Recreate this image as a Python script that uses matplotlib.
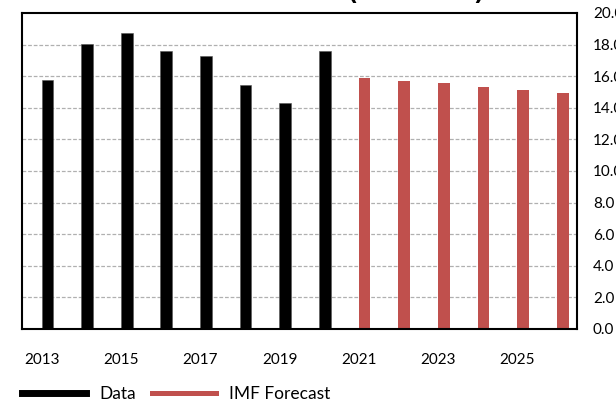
import matplotlib
matplotlib.use("Agg")
import matplotlib.pyplot as plt
from matplotlib.lines import Line2D
import numpy as np

years = [2013, 2014, 2015, 2016, 2017, 2018, 2019, 2020,
         2021, 2022, 2023, 2024, 2025, 2026]
data_values = [15.74, 18.02, 18.73, 17.59, 17.30, 15.42, 14.28, 17.61]
forecast_values = [15.89, 15.72, 15.59, 15.34, 15.15, 14.96]
tick_years = [2013, 2015, 2017, 2019, 2021, 2023, 2025]
y_ticks = [0, 2, 4, 6, 8, 10, 12, 14, 16, 18, 20]
title_text = "(% of GDP)"
legend_labels = ["Data", "IMF Forecast"]

BLACK = "#000000"
RED = "#C0504D"

plt.rcParams['font.family'] = ['Lato', 'DejaVu Sans']

W, H = 616, 401
fig = plt.figure(figsize=(W / 100, H / 100), dpi=100)
ax = fig.add_axes([22 / W, 1 - 329 / H, (577 - 22) / W, (329 - 13) / H])

idx = np.arange(len(years))
offset = 0.14
n_data = len(data_values)
ax.bar(idx[:n_data] + offset, data_values, width=0.295, color=BLACK,
       edgecolor="#555555", linewidth=0.4, zorder=3)
ax.bar(idx[n_data:] + offset, forecast_values, width=0.295, color=RED,
       zorder=3)

ax.set_xlim(-0.5, len(years) - 0.5)
ax.set_ylim(0, 20)

tick_idx = [years.index(y) for y in tick_years]
ax.set_xticks(tick_idx)
ax.set_xticklabels([str(y) for y in tick_years], fontsize=11)
ax.tick_params(axis='x', length=0, pad=17)

ax.yaxis.tick_right()
ax.set_yticks(y_ticks)
ax.set_yticklabels([f"{v:.1f}" for v in y_ticks], fontsize=11)
ax.tick_params(axis='y', length=0, pad=11.5)

for v in y_ticks[1:-1]:
    ax.axhline(v, color="#B0B0B0", linewidth=0.9, linestyle=(0, (3, 1.5)),
               zorder=1)

for s in ax.spines.values():
    s.set_linewidth(1.5)
    s.set_color("black")
    s.set_zorder(4)

fig.text(416 / W, 1.0, title_text, ha='center', va='baseline', fontsize=16,
         fontweight='bold', family='DejaVu Sans')

handles = [Line2D([0], [0], color=BLACK, lw=5),
           Line2D([0], [0], color=RED, lw=3.6)]
fig.legend(handles, legend_labels, loc='center left',
           bbox_to_anchor=(22 / W, 1 - 394 / H), ncol=2, frameon=False,
           fontsize=12.5, handlelength=3.7, handletextpad=0.75,
           columnspacing=0.9, borderpad=0, borderaxespad=0)

fig.savefig("out.png", dpi=100)
